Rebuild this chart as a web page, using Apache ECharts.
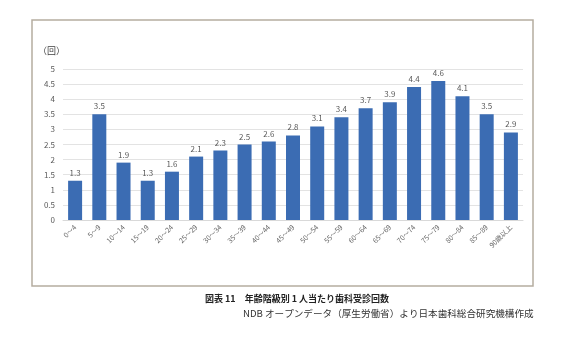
<!DOCTYPE html>
<html><head><meta charset="utf-8">
<script src="https://cdn.jsdelivr.net/npm/echarts@6/dist/echarts.min.js"></script>
<style>html,body{margin:0;padding:0;background:#fff;}#c{width:569px;height:344px;}</style>
</head><body><div id="c"></div>
<script>
var categories = ['0～4','5～9','10～14','15～19','20～24','25～29','30～34','35～39','40～44','45～49','50～54','55～59','60～64','65～69','70～74','75～79','80～84','85～89','90歳以上'];
var visits = [1.3,3.5,1.9,1.3,1.6,2.1,2.3,2.5,2.6,2.8,3.1,3.4,3.7,3.9,4.4,4.6,4.1,3.5,2.9];
var yTicks = [0,0.5,1,1.5,2,2.5,3,3.5,4,4.5,5];
var unitLabel = '（回）';
var captionTitle = '図表 11　年齢階級別 1 人当たり歯科受診回数';
var captionSource = 'NDB オープンデータ（厚生労働省）より日本歯科総合研究機構作成';

var chart = echarts.init(document.getElementById('c'), null, {renderer:'canvas'});
var font = '"Noto Sans CJK JP", "Liberation Sans", sans-serif';
chart.setOption({
  backgroundColor:'#fff',
  animation:false,
  grid:{left:63,right:46,top:69,bottom:124,containLabel:false},
  xAxis:{type:'category',data:categories,
    axisLine:{show:true,lineStyle:{color:'#d9d9d9'}},
    axisTick:{show:false},
    axisLabel:{rotate:45,interval:0,fontSize:7,color:'#666',fontFamily:font,margin:6}},
  yAxis:{type:'value',min:yTicks[0],max:yTicks[yTicks.length-1],interval:0.5,
    axisLine:{show:false},axisTick:{show:false},
    splitLine:{lineStyle:{color:'#e3e3e3'}},
    axisLabel:{fontSize:8,color:'#595959',fontFamily:font,margin:8}},
  series:[{type:'bar',data:visits,barWidth:14,
    itemStyle:{color:'#3b6cb3'},
    label:{show:true,position:'top',fontSize:8,color:'#595959',fontFamily:font,distance:4,
      formatter:function(p){return p.value.toFixed(1);}}}],
  graphic:[
    {type:'rect',shape:{x:32,y:20,width:501,height:266},style:{fill:'none',stroke:'#b5ada0',lineWidth:1.5},z:-1},
    {type:'text',x:38,y:46,style:{text:unitLabel,font:'9px '+font,fill:'#404040'}},
    {type:'text',x:205,y:294,style:{text:captionTitle,font:'bold 9px '+font,fill:'#222'}},
    {type:'text',x:243,y:309,style:{text:captionSource,font:'9.6px '+font,fill:'#333'}}
  ]
});
</script></body></html>
